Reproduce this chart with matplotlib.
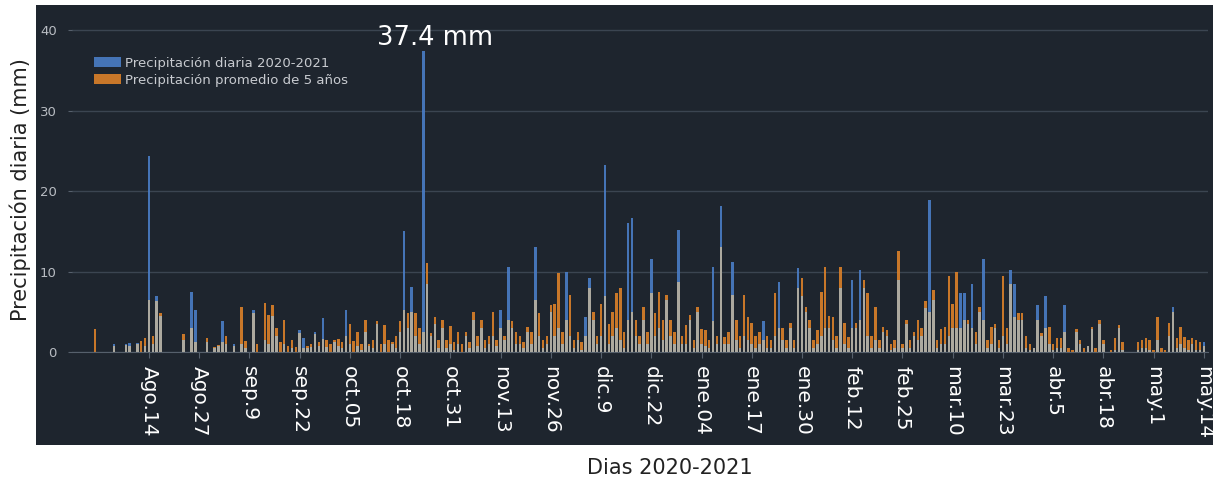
import matplotlib
matplotlib.use("Agg")
import matplotlib.pyplot as plt
from matplotlib.patches import Rectangle
import numpy as np

# daily rainfall 2020-2021, Jul 31 2020 .. May 14 2021 (one value per day)
diaria = [
    0, 0, 0, 0, 0, 1.0, 0, 0, 1.0, 1.1,
    0, 1.1, 0, 0.8, 24.3, 1.0, 6.9, 4.5, 0, 0,
    0, 0, 0, 1.5, 0, 7.5, 5.2, 0, 0, 1.2,
    0, 0.5, 0.8, 3.8, 1.0, 0, 1.0, 0, 1.0, 0.5,
    0, 5.2, 0, 0, 1.5, 1.0, 4.5, 2.0, 0, 1.0,
    0, 0.5, 0, 2.7, 1.8, 0.5, 0.6, 2.5, 0.8, 4.2,
    0.6, 0, 1.2, 0.8, 0.5, 5.2, 1.0, 0, 0.8, 0.3,
    2.5, 0.8, 0.5, 3.5, 0, 1.0, 0, 1.0, 0.5, 2.5,
    15.0, 3.0, 8.1, 2.0, 1.0, 37.4, 8.5, 2.0, 3.5, 0.5,
    3.0, 0.5, 1.0, 0.3, 1.0, 0, 2.0, 0.5, 4.0, 0.8,
    3.0, 0.5, 1.0, 2.0, 0.8, 5.2, 1.5, 10.6, 3.0, 1.0,
    1.0, 0.5, 2.5, 1.0, 13.1, 2.0, 0.5, 1.0, 5.0, 2.0,
    3.0, 1.0, 10.0, 2.0, 0.5, 1.5, 0.3, 4.4, 9.2, 4.0,
    1.0, 2.0, 23.2, 1.0, 2.0, 3.0, 1.5, 0.5, 16.0, 16.6,
    2.0, 1.0, 4.0, 1.0, 11.6, 2.0, 3.0, 1.5, 6.5, 2.0,
    1.0, 15.2, 1.0, 1.0, 4.0, 0.5, 5.0, 1.0, 0.8, 0.5,
    10.6, 1.0, 18.1, 1.0, 1.0, 11.2, 1.5, 0.5, 2.0, 1.5,
    1.0, 0.5, 1.0, 3.8, 0.5, 0.5, 2.0, 8.7, 1.5, 0.5,
    3.0, 0.5, 10.4, 7.0, 5.0, 3.0, 0.5, 1.0, 2.0, 3.0,
    3.0, 1.5, 0.5, 8.0, 1.0, 0.5, 8.9, 3.0, 10.2, 8.0,
    2.0, 0.5, 1.5, 0.5, 2.5, 2.0, 0.3, 0.5, 9.0, 0.5,
    3.5, 0.5, 2.0, 1.5, 2.0, 5.5, 18.9, 6.5, 0.5, 1.0,
    1.0, 2.0, 3.0, 3.0, 7.3, 7.3, 3.5, 8.5, 1.0, 5.0,
    11.6, 0.5, 1.0, 3.0, 0.5, 2.0, 1.0, 10.2, 8.5, 4.0,
    4.0, 0.5, 0.3, 0.5, 5.8, 2.0, 6.9, 1.0, 0.3, 0.5,
    0.5, 5.8, 0, 0, 2.5, 1.0, 0, 0.8, 2.8, 0,
    3.5, 1.0, 0, 0, 0.3, 3.0, 0.3, 0, 0, 0,
    0.3, 0.5, 0.5, 0.3, 0, 1.5, 0, 0, 2.0, 5.6,
    0.5, 1.0, 0.5, 0.3, 1.0, 0.3, 0.3, 1.3,
]

# 5-year average for the same days
promedio = [
    2.9, 0, 0, 0, 0, 0.8, 0, 0, 0.9, 0.8,
    0, 1.0, 1.4, 1.8, 6.5, 2.0, 6.3, 4.8, 0, 0,
    0, 0, 0, 2.2, 0, 3.0, 1.2, 0, 0, 1.7,
    0, 0.6, 0.9, 1.2, 2.0, 0, 0.8, 0, 5.6, 1.4,
    0, 4.8, 1.0, 0, 6.1, 4.6, 5.8, 3.0, 1.2, 4.0,
    0.8, 1.5, 0.6, 2.4, 0.5, 0.8, 1.0, 2.2, 1.2, 1.6,
    1.5, 1.0, 1.5, 1.6, 1.2, 2.0, 3.5, 1.4, 2.5, 1.0,
    4.0, 1.0, 1.5, 3.8, 1.0, 3.4, 1.5, 1.2, 2.0, 3.8,
    5.2, 4.8, 5.0, 4.9, 3.0, 2.5, 11.0, 2.3, 4.4, 1.5,
    4.0, 1.5, 3.2, 1.2, 2.5, 1.0, 2.5, 1.2, 5.0, 2.0,
    4.0, 1.5, 2.0, 5.0, 1.5, 3.0, 2.0, 4.0, 3.8, 2.5,
    2.0, 1.2, 3.1, 2.5, 6.5, 4.8, 1.5, 2.0, 5.8, 6.0,
    9.8, 2.5, 4.0, 7.1, 1.5, 2.5, 1.2, 2.0, 8.0, 5.0,
    2.0, 6.0, 6.9, 3.5, 5.0, 7.3, 7.9, 2.5, 4.0, 5.0,
    4.0, 2.0, 5.6, 2.5, 7.3, 4.8, 7.5, 4.0, 7.1, 4.0,
    2.5, 8.7, 2.0, 3.4, 4.6, 1.5, 5.6, 2.9, 2.7, 1.5,
    3.8, 2.0, 13.1, 1.9, 2.5, 7.1, 4.0, 2.0, 7.1, 4.4,
    3.6, 2.0, 2.5, 1.5, 2.0, 1.5, 7.3, 3.0, 3.0, 1.5,
    3.6, 1.5, 8.0, 9.2, 5.6, 4.0, 1.5, 2.7, 7.5, 10.6,
    4.5, 4.4, 2.0, 10.6, 3.6, 1.9, 3.0, 3.6, 4.0, 8.9,
    7.3, 2.0, 5.6, 1.5, 3.1, 2.7, 1.0, 1.5, 12.5, 1.0,
    4.0, 1.5, 2.5, 4.0, 3.0, 6.3, 5.0, 7.7, 1.5, 2.9,
    3.1, 9.4, 6.0, 10.0, 3.0, 4.0, 4.0, 3.0, 2.5, 5.6,
    4.0, 1.5, 3.1, 3.5, 1.5, 9.4, 3.0, 8.5, 4.4, 4.8,
    4.8, 2.0, 1.0, 0.5, 4.0, 2.3, 3.0, 3.1, 1.0, 1.7,
    1.7, 2.5, 0.5, 0.3, 2.9, 1.5, 0.5, 0.8, 3.1, 0.5,
    4.0, 1.5, 0, 0.3, 1.7, 3.4, 1.3, 0, 0, 0,
    1.3, 1.5, 1.7, 1.5, 0.3, 4.4, 0.5, 0.3, 3.6, 5.0,
    1.7, 3.1, 1.9, 1.5, 1.7, 1.5, 1.3, 0.8,
]

etiquetas = ["Ago.14", "Ago.27", "sep.9", "sep.22", "oct.05", "oct.18", "oct.31",
             "nov.13", "nov.26", "dic.9", "dic.22", "ene.04", "ene.17", "ene.30",
             "feb.12", "feb.25", "mar.10", "mar.23", "abr.5", "abr.18", "may.1", "may.14"]

plt.rcParams['font.family'] = ['DejaVu Sans']

dias = np.arange(len(diaria))
ticks = 14 + 13 * np.arange(len(etiquetas))
# where both series overlap the bars blend to a pale beige
comun = np.minimum(diaria, promedio)

fig = plt.figure(figsize=(12.15, 4.86), dpi=100, facecolor='white')
fondo = Rectangle((0.0296, 0.0844), 0.9687, 0.905, transform=fig.transFigure,
                  facecolor='#1e252e', edgecolor='none', zorder=-10)
fig.add_artist(fondo)
ax = fig.add_axes([0.0593, 0.2757, 0.935, 0.679])
ax.set_facecolor('none')

ax.bar(dias, promedio, width=0.65, color='#dc8129', alpha=0.9, zorder=2,
       label='Precipitación promedio de 5 años')
ax.bar(dias, diaria, width=0.65, color='#4a7dc6', alpha=0.9, zorder=3,
       label='Precipitación diaria 2020-2021')
ax.bar(dias, comun, width=0.65, color='#bcb29c', alpha=0.85, zorder=4)

ax.set_xlim(-5.9, 288.1)
ax.set_ylim(0, 41)
ax.set_yticks([0, 10, 20, 30, 40])
ax.grid(axis='y', color='#3b4551', linewidth=1)
ax.set_axisbelow(True)
for s in ['top', 'right', 'left']:
    ax.spines[s].set_visible(False)
ax.spines['bottom'].set_color('#56606c')
ax.tick_params(axis='y', colors='#b8bcc2', labelsize=9.5, length=3, pad=8, color='#56606c')
ax.set_xticks(ticks)
ax.set_xticklabels(etiquetas, rotation=270, color='white', fontsize=14.5)
ax.tick_params(axis='x', length=4, color='#56606c', pad=6)

imax = int(np.argmax(diaria))
ax.text(imax + 3, diaria[imax] + 1.6, f"{diaria[imax]} mm", color='white', fontsize=18.5,
        ha='center', va='center')

h, l = ax.get_legend_handles_labels()
leg = ax.legend(h[::-1], l[::-1], loc='upper left', bbox_to_anchor=(0.015, 0.91),
                frameon=False, fontsize=9.5, handlelength=2.0, handleheight=0.8,
                labelspacing=0.3, handletextpad=0.3, borderaxespad=0)
for t in leg.get_texts():
    t.set_color('#c8cbd0')

fig.text(0.017, 0.61, 'Precipitación diaria (mm)', rotation=90, ha='center', va='center',
         fontsize=15, color='#222222')
fig.text(0.551, 0.037, 'Dias 2020-2021', ha='center', va='center', fontsize=15, color='#222222')

fig.savefig('out.png', dpi=100, facecolor='white')
